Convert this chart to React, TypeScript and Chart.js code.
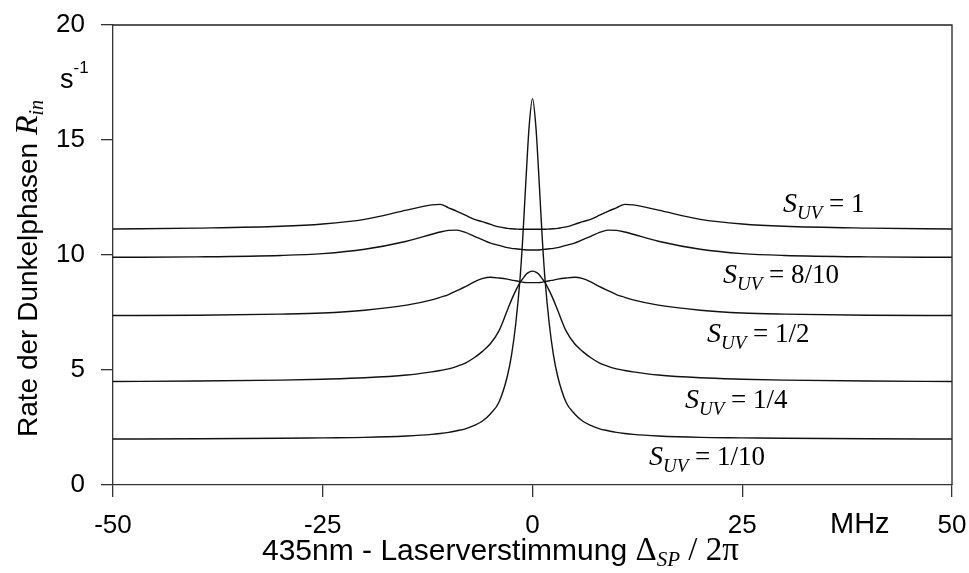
import React, { useEffect, useRef } from "react";
import { Chart, registerables } from "chart.js";

Chart.register(...registerables);

// Detuning (MHz)
const detuning = [
  -50, -40, -30, -25, -20, -15, -12, -11, -10, -9, -8, -7, -6, -5, -4, -3, -2.5, -2, -1.5, -1.2, -1, -0.7, -0.4, 0,
  0.4, 0.7, 1, 1.2, 1.5, 2, 2.5, 3, 4, 5, 6, 7, 8, 9, 10, 11, 12, 15, 20, 25, 30, 40, 50,
];

// Rate of dark periods (1/s) for each saturation S_UV
const rateS010 = [
  2.0, 2.01, 2.03, 2.05, 2.07, 2.13, 2.2, 2.24, 2.29, 2.36, 2.44, 2.58, 2.77, 3.1, 3.6, 4.73, 5.65, 7.0, 8.9, 10.5, 11.8, 13.8, 15.6, 16.8,
  15.6, 13.8, 11.8, 10.5, 8.9, 7.0, 5.65, 4.73, 3.6, 3.1, 2.77, 2.58, 2.44, 2.36, 2.29, 2.24, 2.2, 2.13, 2.07, 2.05, 2.03, 2.01, 2.0,
];
const rateS025 = [
  4.5, 4.52, 4.56, 4.6, 4.66, 4.78, 4.92, 4.98, 5.05, 5.16, 5.3, 5.52, 5.8, 6.15, 6.7, 7.6, 8.05, 8.45, 8.8, 8.95, 9.05, 9.18, 9.26, 9.3,
  9.26, 9.18, 9.05, 8.95, 8.8, 8.45, 8.05, 7.6, 6.7, 6.15, 5.8, 5.52, 5.3, 5.16, 5.05, 4.98, 4.92, 4.78, 4.66, 4.6, 4.56, 4.52, 4.5,
];
const rateS050 = [
  7.37, 7.38, 7.43, 7.48, 7.6, 7.82, 8.05, 8.16, 8.28, 8.45, 8.62, 8.82, 8.97, 9.03, 9.0, 8.95, 8.91, 8.88, 8.84, 8.82, 8.81, 8.8, 8.8, 8.8,
  8.8, 8.8, 8.81, 8.82, 8.84, 8.88, 8.91, 8.95, 9.0, 9.03, 8.97, 8.82, 8.62, 8.45, 8.28, 8.16, 8.05, 7.82, 7.6, 7.48, 7.43, 7.38, 7.37,
];
const rateS080 = [
  9.9, 9.92, 9.98, 10.06, 10.25, 10.6, 10.9, 11.0, 11.07, 11.08, 10.98, 10.82, 10.67, 10.52, 10.42, 10.32, 10.29, 10.27, 10.25, 10.24, 10.23, 10.22, 10.22, 10.22,
  10.22, 10.22, 10.23, 10.24, 10.25, 10.27, 10.29, 10.32, 10.42, 10.52, 10.67, 10.82, 10.98, 11.08, 11.07, 11.0, 10.9, 10.6, 10.25, 10.06, 9.98, 9.92, 9.9,
];
const rateS100 = [
  11.13, 11.17, 11.25, 11.35, 11.55, 11.95, 12.18, 12.2, 12.05, 11.9, 11.73, 11.56, 11.45, 11.33, 11.22, 11.16, 11.14, 11.13, 11.12, 11.12, 11.12, 11.12, 11.12, 11.12,
  11.12, 11.12, 11.12, 11.12, 11.12, 11.13, 11.14, 11.16, 11.22, 11.33, 11.45, 11.56, 11.73, 11.9, 12.05, 12.2, 12.18, 11.95, 11.55, 11.35, 11.25, 11.17, 11.13,
];

const seriesValues = [rateS010, rateS025, rateS050, rateS080, rateS100];
const seriesFractions = ["1/10", "1/4", "1/2", "8/10", "1"];

const xTickValues = [-50, -25, 0, 25, 50];
const xTickLabels = ["-50", "-25", "0", "25", "50"];
const yTickValues = [0, 5, 10, 15, 20];
const yTickLabels = ["0", "5", "10", "15", "20"];

const SANS = "'Liberation Sans', Arial, sans-serif";
const SERIF = "'Liberation Serif', 'Times New Roman', serif";

type Part = { t: string; f: string; dy?: number };

function drawParts(ctx: CanvasRenderingContext2D, x: number, y: number, parts: Part[]) {
  let cx = x;
  for (const p of parts) {
    ctx.font = p.f;
    ctx.fillText(p.t, cx, y + (p.dy || 0));
    cx += ctx.measureText(p.t).width;
  }
}

function sLabel(frac: string): Part[] {
  return [
    { t: "S", f: `italic 28px ${SERIF}` },
    { t: "UV", f: `italic 19px ${SERIF}`, dy: 7 },
    { t: " = " + frac, f: `27px ${SERIF}` },
  ];
}

// label anchor positions (px) for each series label, same order as seriesFractions
const labelPos = [
  [649, 465],
  [685, 408],
  [707, 342],
  [723, 283],
  [783, 212],
];

const decorPlugin = {
  id: "decor",
  afterDraw(chart: any) {
    const ctx: CanvasRenderingContext2D = chart.ctx;
    const a = chart.chartArea;
    ctx.save();
    ctx.strokeStyle = "#222";
    ctx.lineWidth = 1.3;
    ctx.beginPath();
    ctx.moveTo(a.left, a.top);
    ctx.lineTo(a.right, a.top);
    ctx.lineTo(a.right, a.bottom);
    ctx.stroke();

    ctx.fillStyle = "#000";
    ctx.textBaseline = "alphabetic";
    ctx.textAlign = "left";

    seriesFractions.forEach((fr, i) => {
      drawParts(ctx, labelPos[i][0], labelPos[i][1], sLabel(fr));
    });

    // unit labels
    drawParts(ctx, 60, 88, [
      { t: "s", f: `27px ${SANS}` },
      { t: "-1", f: `17px ${SANS}`, dy: -15 },
    ]);
    drawParts(ctx, 830, 533, [{ t: "MHz", f: `29px ${SANS}` }]);

    // x title
    drawParts(ctx, 262, 560, [
      { t: "435nm - Laserverstimmung ", f: `30px ${SANS}` },
      { t: "\u0394", f: `33px ${SERIF}` },
      { t: "SP", f: `italic 21px ${SERIF}`, dy: 6 },
      { t: " / 2\u03c0", f: `33px ${SERIF}` },
    ]);

    // y title
    ctx.translate(37, 437);
    ctx.rotate(-Math.PI / 2);
    drawParts(ctx, 0, 0, [
      { t: "Rate der Dunkelphasen ", f: `28px ${SANS}` },
      { t: "R", f: `italic 32px ${SERIF}` },
      { t: "in", f: `italic 20px ${SERIF}`, dy: 6 },
    ]);
    ctx.restore();
  },
};

export default function App() {
  const ref = useRef<HTMLCanvasElement | null>(null);
  useEffect(() => {
    if (!ref.current) return;
    const chart = new Chart(ref.current, {
      type: "line",
      data: {
        datasets: seriesValues.map((vals, i) => ({
          label: "S_UV = " + seriesFractions[i],
          data: detuning.map((x, j) => ({ x, y: vals[j] })),
          borderColor: "#111",
          borderWidth: 1.4,
          pointRadius: 0,
          fill: false,
          cubicInterpolationMode: "monotone" as const,
        })),
      },
      plugins: [decorPlugin],
      options: {
        responsive: false,
        animation: false,
        layout: { padding: { left: 0, top: 25, right: 17, bottom: 0 } },
        plugins: { legend: { display: false }, tooltip: { enabled: false } },
        scales: {
          x: {
            type: "linear",
            min: -50,
            max: 50,
            afterFit: (s: any) => {
              s.height = 88;
              s.paddingLeft = 0;
              s.paddingRight = 0;
            },
            afterBuildTicks: (s: any) => {
              s.ticks = xTickValues.map((v) => ({ value: v }));
            },
            ticks: {
              callback: (v: any) => xTickLabels[xTickValues.indexOf(Number(v))] ?? "",
              font: { family: SANS, size: 26 },
              color: "#000",
              padding: 13,
              maxRotation: 0,
              autoSkip: false,
            },
            grid: { display: true, drawOnChartArea: false, drawTicks: true, tickLength: 12, color: "#333", lineWidth: 1.3 },
            border: { display: true, color: "#333", width: 1.3 },
          },
          y: {
            type: "linear",
            min: 0,
            max: 20,
            afterFit: (s: any) => {
              s.width = 113;
              s.paddingTop = 0;
              s.paddingBottom = 0;
            },
            afterBuildTicks: (s: any) => {
              s.ticks = yTickValues.map((v) => ({ value: v }));
            },
            ticks: {
              callback: (v: any) => yTickLabels[yTickValues.indexOf(Number(v))] ?? "",
              font: { family: SANS, size: 26 },
              color: "#000",
              padding: 16,
              autoSkip: false,
            },
            grid: { display: true, drawOnChartArea: false, drawTicks: true, tickLength: 12, color: "#333", lineWidth: 1.3 },
            border: { display: true, color: "#333", width: 1.3 },
          },
        },
      },
    });
    return () => chart.destroy();
  }, []);
  return (
    <div style={{ position: "absolute", left: 0, top: 0, width: 969, height: 573, background: "#fff" }}>
      <canvas ref={ref} width={969} height={573} style={{ display: "block" }} />
    </div>
  );
}
